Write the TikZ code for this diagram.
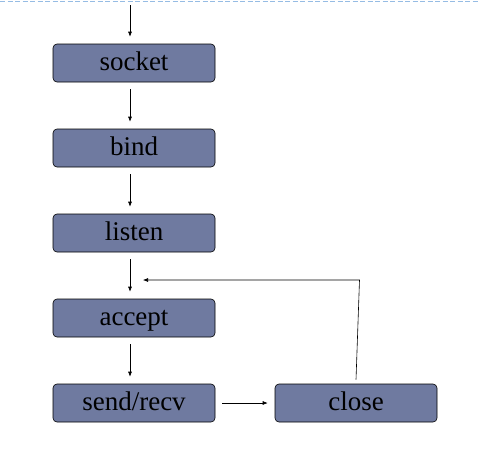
\documentclass[tikz,border=0pt]{standalone}
\usepackage{fontspec}
\setmainfont{Liberation Serif}
\usetikzlibrary{arrows.meta}
\definecolor{boxfill}{RGB}{111,122,160}
\definecolor{topline}{RGB}{150,188,228}
\begin{document}
\begin{tikzpicture}[x=1pt,y=-1pt,
  stepbox/.style={draw=black, fill=boxfill, rounded corners=4pt, minimum width=162pt, minimum height=38pt, inner sep=0pt, text height=18pt, text depth=4pt, font=\fontsize{27}{30}\selectfont, line width=0.6pt},
  arr/.style={-{Latex[length=5pt,width=4pt]}, line width=0.6pt}]
\useasboundingbox (0,0) rectangle (479,456);
\draw[topline, dash pattern=on 5pt off 2.5pt, line width=1pt] (0,1.5) -- (479,1.5);
\node[stepbox] (socket) at (134,63) {socket};
\node[stepbox] (bind) at (134,148) {bind};
\node[stepbox] (listen) at (134,233) {listen};
\node[stepbox] (accept) at (134,318) {accept};
\node[stepbox] (send) at (134,403) {send/recv};
\node[stepbox] (close) at (356,403) {close};
\coordinate (top) at (130,5);
\coordinate (join) at (143,280);
\coordinate (corner) at (359.5,280);
\draw[arr] (top) -- ([xshift=-4pt,yshift=7pt]socket.north);
\draw[arr] ([xshift=-4pt,yshift=-7pt]socket.south) -- ([xshift=-4pt,yshift=7pt]bind.north);
\draw[arr] ([xshift=-4pt,yshift=-7pt]bind.south) -- ([xshift=-4pt,yshift=7pt]listen.north);
\draw[arr] ([xshift=-4pt,yshift=-7pt]listen.south) -- ([xshift=-4pt,yshift=7pt]accept.north);
\draw[arr] ([xshift=-4pt,yshift=-7pt]accept.south) -- ([xshift=-4pt,yshift=7pt]send.north);
\draw[arr] ([xshift=7pt]send.east) -- ([xshift=-7pt]close.west);
\draw[arr] ([xshift=0pt,yshift=4pt]close.north) -- (corner) -- (join);
\end{tikzpicture}
\end{document}
